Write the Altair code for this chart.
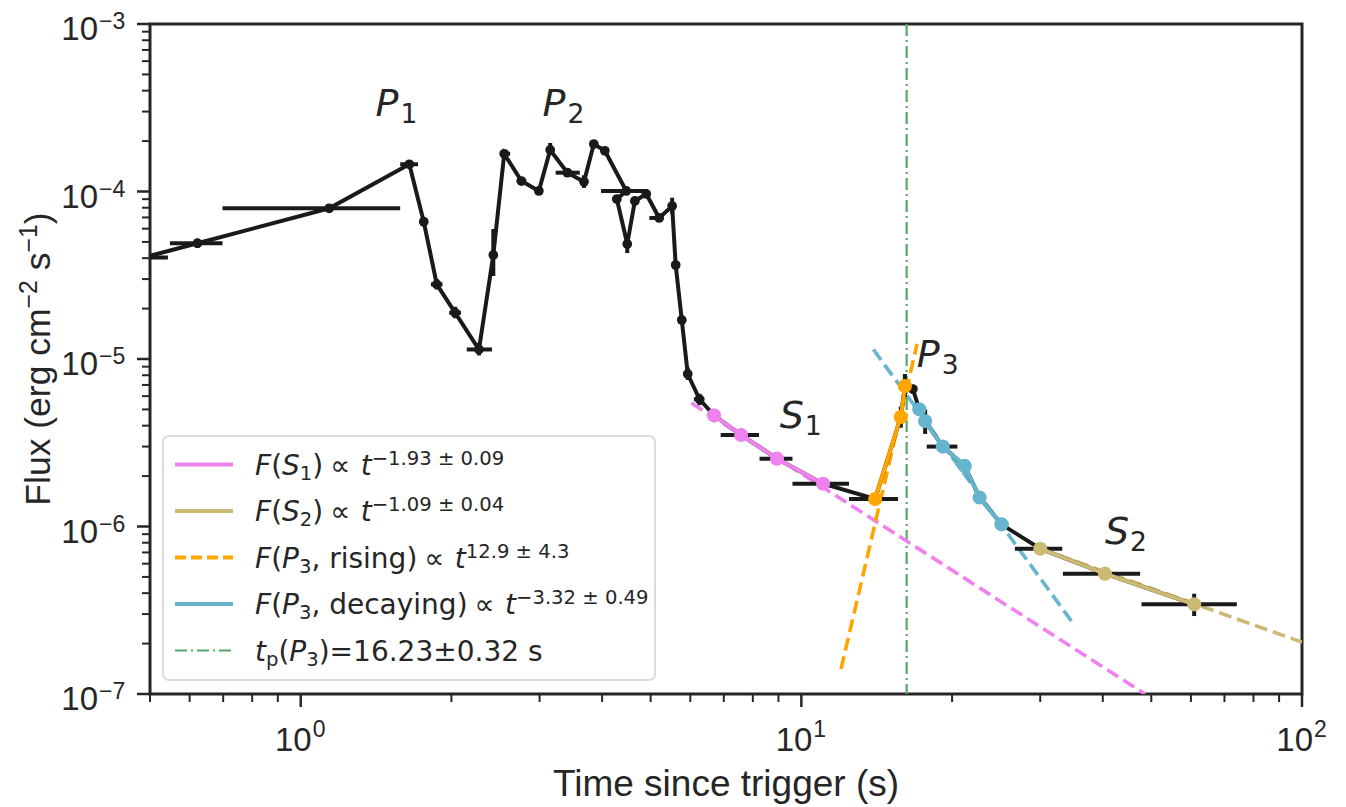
import altair as alt
import pandas as pd

# ---------------- observed light curve (black) ----------------
t_obs = [0.485, 0.622, 1.14, 1.648, 1.761, 1.87, 2.034, 2.27, 2.425, 2.55,
         2.76, 2.99, 3.15, 3.41, 3.68, 3.85, 4.05, 4.47, 4.28, 4.49,
         4.65, 4.9, 5.2, 5.52, 5.61, 5.77, 5.93, 6.26, 6.69, 7.58,
         8.94, 11.05, 14.04, 15.8, 16.1, 16.7, 17.2, 17.67, 19.16, 21.2,
         22.7, 25.1, 30.0, 40.4, 60.9]
f_obs = [4.03e-5, 4.91e-5, 7.94e-5, 1.454e-4, 6.60e-5, 2.79e-5, 1.89e-5, 1.14e-5, 4.18e-5, 1.68e-4,
         1.155e-4, 1.007e-4, 1.77e-4, 1.295e-4, 1.144e-4, 1.92e-4, 1.75e-4, 1.007e-4, 9.02e-5, 4.86e-5,
         8.78e-5, 9.67e-5, 6.95e-5, 8.19e-5, 3.64e-5, 1.71e-5, 8.14e-6, 5.75e-6, 4.61e-6, 3.52e-6,
         2.54e-6, 1.80e-6, 1.46e-6, 4.51e-6, 6.90e-6, 6.62e-6, 5.01e-6, 4.26e-6, 3.0e-6, 2.30e-6,
         1.49e-6, 1.03e-6, 7.37e-7, 5.23e-7, 3.43e-7]
t_lo = [0.43, 0.548, 0.698, 1.58, None, 1.82, 1.98, 2.146, None, 2.5,
        2.7, None, None, 3.23, None, None, None, 3.98, 4.2, None,
        None, None, 4.97, None, None, None, None, 6.1, None, 6.9,
        8.25, 9.6, 12.45, None, None, 16.4, None, None, 17.8, None,
        None, 24.4, 26.7, 33.3, 47.8]
t_hi = [0.543, 0.698, 1.58, 1.715, None, 1.92, 2.09, 2.41, None, 2.62,
        2.82, None, None, 3.61, None, None, None, 4.94, 4.36, None,
        None, None, 5.3, None, None, None, None, 6.4, None, 8.23,
        9.6, 12.45, 15.6, None, None, 17.0, None, None, 20.5, None,
        None, 25.9, 33.2, 47.5, 74.1]
f_lo = [None, 4.6e-5, None, None, 6.2e-5, 2.6e-5, 1.75e-5, 1.05e-5, 3.13e-5, None,
        None, None, 1.65e-4, None, 1.05e-4, None, None, None, None, 4.29e-5,
        None, None, None, 7.34e-5, None, None, 7.5e-6, 5.3e-6, 4.2e-6, None,
        None, None, None, 3.89e-6, 5.9e-6, 6.2e-6, None, 3.57e-6, None, None,
        None, 0.95e-6, 6.9e-7, None, 2.92e-7]
f_hi = [None, 5.2e-5, None, None, 7.0e-5, 3.0e-5, 2.05e-5, 1.25e-5, 5.97e-5, None,
        None, None, 1.95e-4, None, 1.25e-4, None, None, None, None, 5.28e-5,
        None, None, None, 9.18e-5, None, None, 8.9e-6, 6.2e-6, 5.0e-6, None,
        None, None, None, 5.2e-6, 8.14e-6, 7.0e-6, None, 5.0e-6, None, None,
        None, 1.12e-6, 7.9e-7, None, 3.97e-7]

# ---------------- coloured segments ----------------
s1_t = [6.69, 7.58, 8.94, 11.05]
s1_f = [4.61e-6, 3.52e-6, 2.54e-6, 1.80e-6]
rise_t = [14.04, 15.8, 16.1]
rise_f = [1.46e-6, 4.51e-6, 6.90e-6]
decay_t = [17.2, 17.67, 19.16, 21.2, 22.7, 25.1]
decay_f = [5.01e-6, 4.26e-6, 3.0e-6, 2.30e-6, 1.49e-6, 1.03e-6]
s2_t = [30.0, 40.4, 60.9]
s2_f = [7.37e-7, 5.23e-7, 3.43e-7]

# ---------------- power-law fits (end points) ----------------
fit_s1_t, fit_s1_f = [6.03, 48.6], [5.46e-6, 1.0e-7]
fit_rise_t, fit_rise_f = [12.0, 17.03], [1.41e-7, 1.23e-5]
fit_decay_t, fit_decay_f = [13.93, 35.2], [1.14e-5, 2.55e-7]
fit_s2_t, fit_s2_f = [30.0, 100.0], [7.37e-7, 2.04e-7]
t_peak = [16.23]

# ---------------- ticks ----------------
x_major = [1, 10, 100]
x_major_exp = ["0", "1", "2"]
x_minor = [0.5, 0.6, 0.7, 0.8, 0.9, 2, 3, 4, 5, 6, 7, 8, 9,
           20, 30, 40, 50, 60, 70, 80, 90]
y_major = [1e-7, 1e-6, 1e-5, 1e-4, 1e-3]
y_major_exp = ["\u22127", "\u22126", "\u22125", "\u22124", "\u22123"]
y_minor = [k * 10.0 ** e for e in range(-7, -3) for k in range(2, 10)]

# ---------------- annotations ----------------
ann_main = ["P", "P", "P", "S", "S"]
ann_sub = ["1", "2", "3", "1", "2"]
ann_t = [1.41, 3.04, 17.0, 9.05, 40.4]
ann_f = [2.82e-4, 2.82e-4, 8.96e-6, 3.87e-6, 7.87e-7]

# ---------------- legend ----------------
SP = "\u2005"
leg_segments = [
    [("F", "it"), ("(", "up"), ("S", "it"), ("1", "sub"), (")" + SP + "\u221d" + SP, "up"), ("t", "it"), ("\u22121.93 \u00b1 0.09", "sup")],
    [("F", "it"), ("(", "up"), ("S", "it"), ("2", "sub"), (")" + SP + "\u221d" + SP, "up"), ("t", "it"), ("\u22121.09 \u00b1 0.04", "sup")],
    [("F", "it"), ("(", "up"), ("P", "it"), ("3", "sub"), (", rising)" + SP + "\u221d" + SP, "up"), ("t", "it"), ("12.9 \u00b1 4.3", "sup")],
    [("F", "it"), ("(", "up"), ("P", "it"), ("3", "sub"), (", decaying)" + SP + "\u221d" + SP, "up"), ("t", "it"), ("\u22123.32 \u00b1 0.49", "sup")],
    [("t", "it"), ("p", "sub"), ("(", "up"), ("P", "it"), ("3", "sub"), (")=16.23\u00b10.32 s", "up")],
]
leg_colors = ["#EE82EE", "#CCB974", "#FFA500", "#64B5CD", "#55A868"]
leg_dash = [None, None, [11, 5], None, [12, 4, 2, 4]]
leg_width = [4, 4, 4, 4, 2.2]

# ---------------- styling ----------------
W, H = 1152, 670
XS = alt.Scale(type="log", domain=[0.5, 100], nice=False)
YS = alt.Scale(type="log", domain=[1e-7, 1e-3], nice=False)
INK = "#262626"
BLACK = "#1a1a1a"
SANS = "Liberation Sans"
DV = "DejaVu Sans"
ONE = pd.DataFrame({"k": [0]})
LW = 4

DVW = {' ': 651, '(': 799, ')': 799, ',': 651, '.': 651, '=': 1716, '\u00b1': 1716,
       '\u221d': 1716, '\u2212': 1716, 'F': 1180, 'S': 1300, 'P': 1235, 't': 803,
       'r': 842, 'i': 569, 's': 1067, 'n': 1298, 'g': 1300, 'd': 1300, 'e': 1260,
       'c': 1126, 'a': 1255, 'y': 1212, 'p': 1300, SP: 512}
ARW = {'F': 611, 'l': 222, 'u': 556, 'x': 500, ' ': 278, '(': 333, ')': 333, 'e': 556,
       'r': 333, 'g': 556, 'c': 500, 'm': 833, 's': 500, '\u2212': 584}


def dv_width(s, size):
    return sum(DVW.get(ch, 1303) for ch in s) / 2048 * size


def ar_width(s, size):
    return sum(ARW.get(ch, 556) for ch in s) / 1000 * size


def X(f):
    return alt.X(f"{f}:Q", scale=XS, axis=None)


def Y(f):
    return alt.Y(f"{f}:Q", scale=YS, axis=None)


def fill(vals, ref):
    return [r if v is None else v for v, r in zip(vals, ref)]


layers = []

# vertical peak-time line
layers.append(alt.Chart(pd.DataFrame({"t": t_peak})).mark_rule(
    color="#55A868", strokeWidth=2.2, strokeDash=[12, 4, 2, 4], clip=True
).encode(x=X("t"), y=alt.value(0), y2=alt.value(H)))

# dashed fits
for ts, fs, col in [(fit_s1_t, fit_s1_f, "#EE82EE"), (fit_s2_t, fit_s2_f, "#CCB974"),
                    (fit_decay_t, fit_decay_f, "#64B5CD"), (fit_rise_t, fit_rise_f, "#FFA500")]:
    layers.append(alt.Chart(pd.DataFrame({"t": ts, "f": fs})).mark_line(
        color=col, strokeWidth=3.6, strokeDash=[13, 6], clip=True
    ).encode(x=X("t"), y=Y("f")))

# black observations
obs = pd.DataFrame({"i": list(range(len(t_obs))), "t": t_obs, "f": f_obs,
                    "tlo": fill(t_lo, t_obs), "thi": fill(t_hi, t_obs),
                    "flo": fill(f_lo, f_obs), "fhi": fill(f_hi, f_obs)})
ob = alt.Chart(obs)
layers.append(ob.mark_rule(color=BLACK, strokeWidth=LW, clip=True).encode(
    x=X("tlo"), x2="thi:Q", y=Y("f")))
layers.append(ob.mark_rule(color=BLACK, strokeWidth=LW, clip=True).encode(
    x=X("t"), y=Y("flo"), y2="fhi:Q"))
layers.append(ob.mark_line(color=BLACK, strokeWidth=LW, clip=True).encode(
    x=X("t"), y=Y("f"), order="i:Q"))
layers.append(ob.mark_circle(color=BLACK, size=95, opacity=1, clip=True).encode(
    x=X("t"), y=Y("f")))

# coloured segments
for ts, fs, col in [(s1_t, s1_f, "#EE82EE"), (rise_t, rise_f, "#FFA500"),
                    (decay_t, decay_f, "#64B5CD"), (s2_t, s2_f, "#CCB974")]:
    c = alt.Chart(pd.DataFrame({"t": ts, "f": fs}))
    layers.append(c.mark_line(color=col, strokeWidth=LW, clip=True).encode(x=X("t"), y=Y("f")))
    layers.append(c.mark_circle(color=col, size=200, opacity=1, clip=True).encode(x=X("t"), y=Y("f")))

# annotations
ann = pd.DataFrame({"t": ann_t, "f": ann_f, "main": ann_main, "sub": ann_sub})
layers.append(alt.Chart(ann).mark_text(font=DV, fontSize=38, fontStyle="italic", color=INK,
                                       align="left", baseline="alphabetic").encode(
    x=X("t"), y=Y("f"), text="main:N"))
layers.append(alt.Chart(ann).mark_text(font=DV, fontSize=26.6, color=INK, align="left",
                                       baseline="alphabetic", dx=25, dy=7).encode(
    x=X("t"), y=Y("f"), text="sub:N"))

# ticks
layers.append(alt.Chart(pd.DataFrame({"v": x_major})).mark_rule(color=INK, strokeWidth=2.5).encode(
    x=X("v"), y=alt.value(H), y2=alt.value(H + 13)))
layers.append(alt.Chart(pd.DataFrame({"v": x_minor})).mark_rule(color=INK, strokeWidth=2).encode(
    x=X("v"), y=alt.value(H), y2=alt.value(H + 8)))
layers.append(alt.Chart(pd.DataFrame({"v": y_major})).mark_rule(color=INK, strokeWidth=2.5).encode(
    y=Y("v"), x=alt.value(0), x2=alt.value(-13)))
layers.append(alt.Chart(pd.DataFrame({"v": y_minor})).mark_rule(color=INK, strokeWidth=2).encode(
    y=Y("v"), x=alt.value(0), x2=alt.value(-8)))

# tick labels
TK, TKS = 33, 23
xl = pd.DataFrame({"v": x_major, "base": ["10"] * len(x_major), "exp": x_major_exp})
layers.append(alt.Chart(xl).mark_text(font=SANS, fontSize=TK, color=INK, align="right",
                                      baseline="alphabetic", dx=11).encode(
    x=X("v"), y=alt.value(H + 57), text="base:N"))
layers.append(alt.Chart(xl).mark_text(font=SANS, fontSize=TKS, color=INK, align="left",
                                      baseline="alphabetic", dx=12).encode(
    x=X("v"), y=alt.value(H + 43), text="exp:N"))
yl = pd.DataFrame({"v": y_major, "base": ["10"] * len(y_major), "exp": y_major_exp})
layers.append(alt.Chart(yl).mark_text(font=SANS, fontSize=TK, color=INK, align="right",
                                      baseline="alphabetic", dy=16).encode(
    y=Y("v"), x=alt.value(-52), text="base:N"))
layers.append(alt.Chart(yl).mark_text(font=SANS, fontSize=TKS, color=INK, align="left",
                                      baseline="alphabetic", dy=5).encode(
    y=Y("v"), x=alt.value(-51), text="exp:N"))

# axis titles
layers.append(alt.Chart(ONE).mark_text(font=SANS, fontSize=37, color=INK, align="center",
                                       baseline="alphabetic", text="Time since trigger (s)").encode(
    x=alt.value(W / 2), y=alt.value(H + 102)))

TFS = 35.5
ysegs = [("Flux (erg cm", "up"), ("\u22122", "sup"), (" s", "up"), ("\u22121", "sup"), (")", "up")]
total = sum(ar_width(s, TFS if k == "up" else TFS * 0.7) for s, k in ysegs)
ypos = H / 2 + total / 2
yrows = []
for s, k in ysegs:
    sz = TFS if k == "up" else TFS * 0.7
    lead = len(s) - len(s.lstrip())
    yrows.append({"x": -100 - (13 if k == "sup" else 0),
                  "y": ypos - ar_width(s[:lead], sz), "text": s.strip(), "kind": k})
    ypos -= ar_width(s, sz)
ydf = pd.DataFrame(yrows)
for k, sz in [("up", TFS), ("sup", TFS * 0.7)]:
    layers.append(alt.Chart(ydf).transform_filter(alt.datum.kind == k).mark_text(
        font=SANS, fontSize=sz, color=INK, align="left", baseline="alphabetic", angle=270
    ).encode(x=alt.X("x:Q", scale=None), y=alt.Y("y:Q", scale=None), text="text:N"))

# legend
LX0, LY0, LDY = 105, 440.5, 46.5
FS, FSS = 28, 19.6
layers.append(alt.Chart(ONE).mark_rect(fill="white", fillOpacity=0.85, stroke="#dcdcdc",
                                       strokeWidth=2, cornerRadius=6).encode(
    x=alt.value(13), x2=alt.value(505), y=alt.value(412), y2=alt.value(656)))
for r in range(len(leg_segments)):
    kw = dict(color=leg_colors[r], strokeWidth=leg_width[r])
    if leg_dash[r] is not None:
        kw["strokeDash"] = leg_dash[r]
    layers.append(alt.Chart(ONE).mark_rule(**kw).encode(
        x=alt.value(25), x2=alt.value(83), y=alt.value(LY0 + r * LDY)))
lrows = []
for r, segs in enumerate(leg_segments):
    x = LX0
    yb = LY0 + r * LDY + 10
    for s, k in segs:
        sz = FS if k in ("it", "up") else FSS
        dy = 5 if k == "sub" else (-10 if k == "sup" else 0)
        lrows.append({"x": x, "y": yb + dy, "text": s, "kind": k})
        x += dv_width(s, sz)
ldf = pd.DataFrame(lrows)
for k, sz, style in [("it", FS, "italic"), ("up", FS, "normal"), ("sub", FSS, "normal"), ("sup", FSS, "normal")]:
    layers.append(alt.Chart(ldf).transform_filter(alt.datum.kind == k).mark_text(
        font=DV, fontSize=sz, fontStyle=style, color=INK, align="left", baseline="alphabetic"
    ).encode(x=alt.X("x:Q", scale=None), y=alt.Y("y:Q", scale=None), text="text:N"))

chart = alt.layer(*layers).properties(
    width=W, height=H,
    autosize=alt.AutoSizeParams(type="none"),
    padding={"left": 142, "top": 16, "right": 36, "bottom": 111},
    background="white",
).configure_view(stroke=INK, strokeWidth=3)

chart.save("out.html", embed_options={"renderer": "svg", "actions": False})
